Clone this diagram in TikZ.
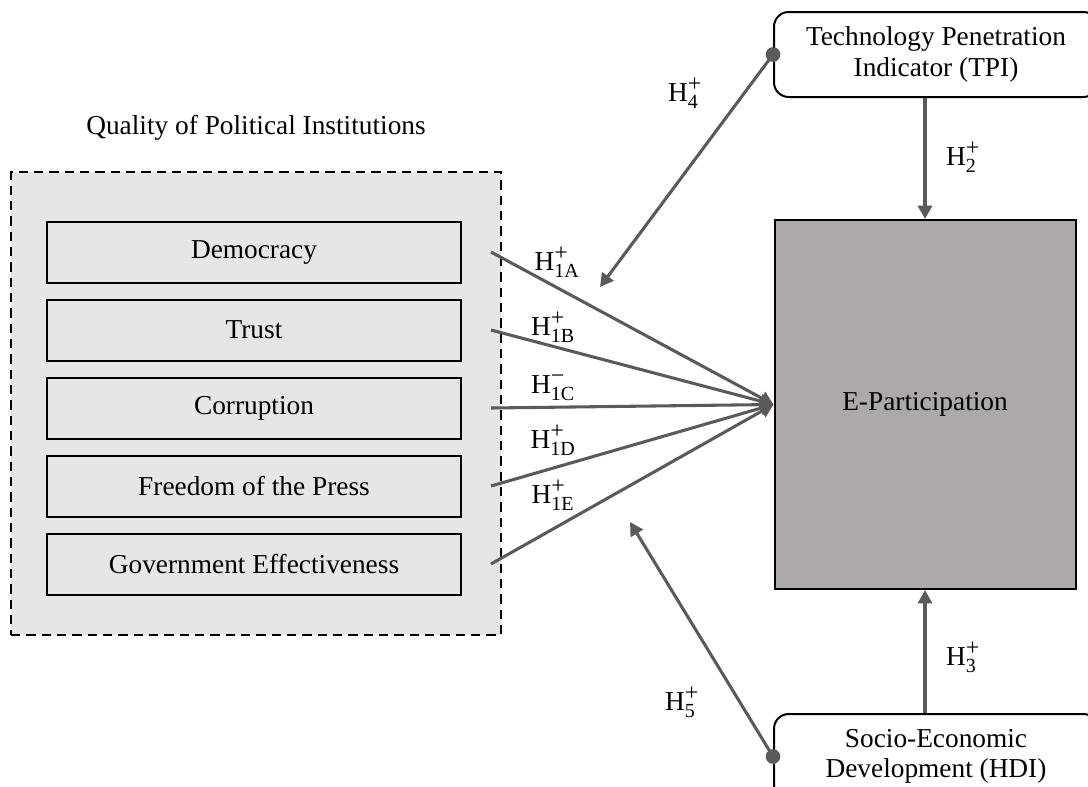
\documentclass[tikz,border=0pt]{standalone}
\usepackage{fontspec}
\setmainfont{Liberation Serif}
\usetikzlibrary{arrows.meta,positioning,calc}
\definecolor{linegray}{HTML}{5A5A5A}
\definecolor{grpfill}{HTML}{E6E6E6}
\definecolor{epfill}{HTML}{ADA9A8}
\newcommand{\scr}[2]{\hbox{\fontsize{#1}{#1}\selectfont #2}}
\newcommand{\hyp}[2]{$\mathrm{H}^{\scr{18}{#1}}_{\scr{15}{#2}}$}
\tikzset{
  grp/.style={draw,dashed,dash pattern=on 7pt off 4.5pt,line width=1.4pt,fill=grpfill,minimum width=367.5pt,minimum height=347.25pt,inner sep=0pt},
  item/.style={draw,line width=1.5pt,fill=grpfill,minimum width=310.5pt,minimum height=45.75pt,inner sep=0pt},
  epbox/.style={draw,line width=1.5pt,fill=epfill,minimum width=225.75pt,minimum height=276.75pt,inner sep=0pt},
  indbox/.style={draw,line width=1.5pt,fill=white,rounded corners=11pt,minimum width=243pt,minimum height=63.75pt,inner sep=0pt,align=center},
  arr/.style={-{Triangle[length=10pt,width=10.5pt]},line width=2.3pt,draw=linegray,color=linegray},
  dotarr/.style={{Circle[length=11pt]}-{Triangle[length=10pt,width=10.5pt]},line width=2.3pt,draw=linegray,color=linegray,shorten <=-5.5pt},
  lbl/.style={inner sep=1pt},
}
\begin{document}
\begin{tikzpicture}[x=0.75pt,y=-0.75pt,every node/.style={font=\fontsize{20.5}{23}\selectfont}]
 \useasboundingbox (0,0) rectangle (1088,786);
 % left group of indicators
 \node[grp] (grp) at (256,403.5) {};
 \node (title) at (256,128) {Quality of Political Institutions};
 \node[item] (dem) at (254,252) {Democracy};
 \node[item,below=11.25pt of dem] (trust) {Trust};
 \node[item,below=11.25pt of trust] (corr) {Corruption};
 \node[item,below=11.25pt of corr] (press) {Freedom of the Press};
 \node[item,below=11.25pt of press] (gov) {Government Effectiveness};
 % right side
 \node[epbox] (ep) at (925,404.5) {E-Participation};
 \node[indbox] (tpi) at (936,54.5) {Technology Penetration\\Indicator (TPI)};
 \node[indbox] (hdi) at (936,756.5) {Socio-Economic\\Development (HDI)};
 % connectors
 \foreach \n in {dem,trust,corr,press,gov}
  \draw[arr] ($(\n.east)+(29,0)$) -- (ep.west);
 \draw[arr] (tpi.south -| ep.north) -- (ep.north);
 \draw[arr] (hdi.north -| ep.south) -- (ep.south);
 \coordinate (h4end) at (600,287);
 \coordinate (h5end) at (630,522);
 \draw[dotarr] (tpi.west) -- (h4end);
 \draw[dotarr] (hdi.west) -- (h5end);
 % hypothesis labels
 \node[lbl] (h1a) at (557,262) {\hyp{+}{1A}};
 \node[lbl] (h1b) at (553,327) {\hyp{+}{1B}};
 \node[lbl] (h1c) at (553,388) {\hyp{−}{1C}};
 \node[lbl] (h1d) at (553,440) {\hyp{+}{1D}};
 \node[lbl] (h1e) at (553,495) {\hyp{+}{1E}};
 \node[lbl] (h2) at (963,157) {\hyp{+}{2}};
 \node[lbl] (h3) at (963,657) {\hyp{+}{3}};
 \node[lbl] (h4) at (685,93) {\hyp{+}{4}};
 \node[lbl] (h5) at (682,702) {\hyp{+}{5}};
\end{tikzpicture}
\end{document}
